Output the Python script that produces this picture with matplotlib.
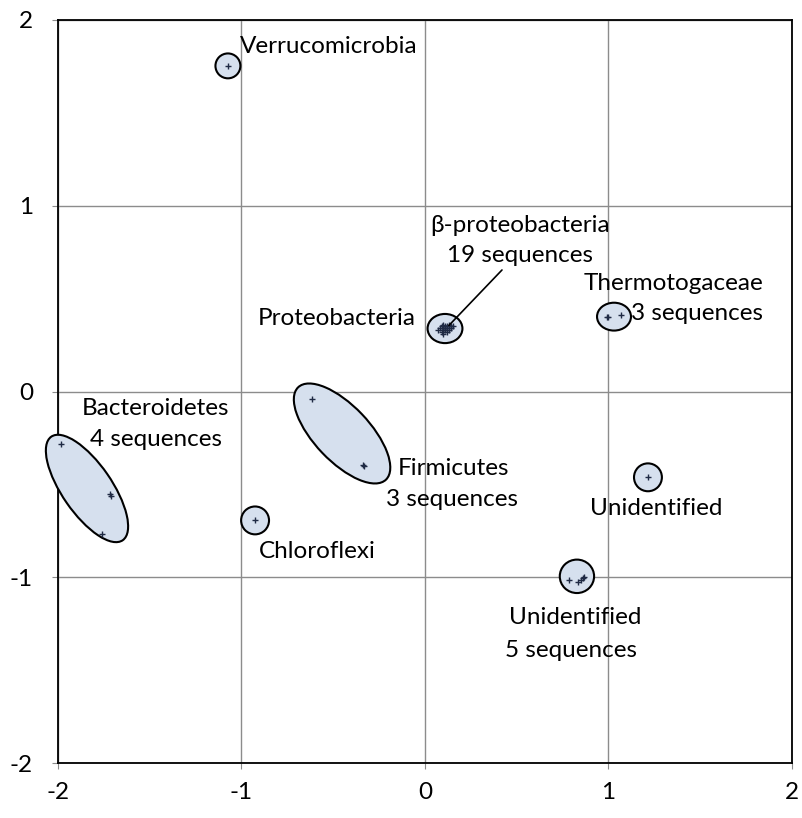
import matplotlib.pyplot as plt
from matplotlib.patches import Ellipse

plt.rcParams['font.family'] = ['Lato', 'DejaVu Sans']
plt.rcParams['axes.unicode_minus'] = False

# sequence coordinates per group
verruco_x = [-1.074]
verruco_y = [1.753]
chloro_x = [-0.926]
chloro_y = [-0.694]
unid1_x = [1.215]
unid1_y = [-0.462]
thermo_x = [0.99, 1.00, 1.07]
thermo_y = [0.40, 0.40, 0.41]
beta_x = [0.07, 0.08, 0.09, 0.09, 0.10, 0.10, 0.10, 0.11, 0.11, 0.11,
          0.12, 0.12, 0.12, 0.13, 0.13, 0.14, 0.14, 0.15, 0.10]
beta_y = [0.33, 0.34, 0.32, 0.35, 0.33, 0.34, 0.36, 0.33, 0.34, 0.35,
          0.32, 0.34, 0.35, 0.33, 0.36, 0.34, 0.35, 0.35, 0.31]
unid5_x = [0.785, 0.834, 0.850, 0.861, 0.866]
unid5_y = [-1.016, -1.027, -1.016, -1.005, -1.000]
bactero_x = [-1.984, -1.717, -1.712, -1.760]
bactero_y = [-0.280, -0.554, -0.560, -0.769]
firmi_x = [-0.616, -0.338, -0.335]
firmi_y = [-0.038, -0.398, -0.400]

# group outlines: centre x, centre y, width, height, angle
outlines = [
    (-1.074, 1.753, 0.136, 0.134, 0),
    (-0.926, -0.694, 0.152, 0.150, 0),
    (1.215, -0.462, 0.152, 0.150, 0),
    (1.03, 0.403, 0.185, 0.150, 0),
    (0.109, 0.339, 0.190, 0.157, 0),
    (0.828, -0.995, 0.187, 0.180, 0),
    (-1.842, -0.522, 0.68, 0.27, -55),
    (-0.452, -0.226, 0.69, 0.30, -46),
]

fig = plt.figure(figsize=(8.03, 8.18), dpi=100)
ax = fig.add_axes([58 / 803, (818 - 763) / 818, 734 / 803, 743 / 818])

for cx, cy, w, h, a in outlines:
    ax.add_patch(Ellipse((cx, cy), w, h, angle=a, facecolor='#d6e0ee',
                         edgecolor='black', lw=1.5, zorder=3, clip_on=False))

groups = [(verruco_x, verruco_y), (chloro_x, chloro_y), (unid1_x, unid1_y),
          (thermo_x, thermo_y), (beta_x, beta_y), (unid5_x, unid5_y),
          (bactero_x, bactero_y), (firmi_x, firmi_y)]
for gx, gy in groups:
    ax.plot(gx, gy, '+', color='#1f2a44', ms=5, mew=1, zorder=4, clip_on=False)

fs = 17.5
ax.text(-1.008, 1.855, 'Verrucomicrobia', fontsize=fs, ha='left', va='center')
ax.text(0.518, 0.892, 'β-proteobacteria', fontsize=fs, ha='center', va='center')
ax.text(0.518, 0.731, '19 sequences', fontsize=fs, ha='center', va='center')
ax.text(-0.48, 0.392, 'Proteobacteria', fontsize=fs, ha='center', va='center')
ax.text(1.842, 0.581, 'Thermotogaceae', fontsize=fs, ha='right', va='center')
ax.text(1.842, 0.419, '3 sequences', fontsize=fs, ha='right', va='center')
ax.text(-1.466, -0.091, 'Bacteroidetes', fontsize=fs, ha='center', va='center')
ax.text(-1.466, -0.258, '4 sequences', fontsize=fs, ha='center', va='center')
ax.text(0.158, -0.414, 'Firmicutes', fontsize=fs, ha='center', va='center')
ax.text(0.148, -0.581, '3 sequences', fontsize=fs, ha='center', va='center')
ax.text(-0.586, -0.860, 'Chloroflexi', fontsize=fs, ha='center', va='center')
ax.text(1.26, -0.630, 'Unidentified', fontsize=fs, ha='center', va='center')
ax.text(0.820, -1.215, 'Unidentified', fontsize=fs, ha='center', va='center')
ax.text(0.795, -1.392, '5 sequences', fontsize=fs, ha='center', va='center')

ax.annotate('', xy=(0.12, 0.345), xytext=(0.43, 0.665),
            arrowprops=dict(arrowstyle='-', color='black', lw=1.2), zorder=5)

ax.set_xlim(-2, 2)
ax.set_ylim(-2, 2)
ax.set_xticks([-2, -1, 0, 1, 2])
ax.set_yticks([-2, -1, 0, 1, 2])
ax.grid(True, color='#8c8c8c', lw=1, zorder=0)
ax.set_axisbelow(True)
for s in ax.spines.values():
    s.set_color('black')
    s.set_linewidth(1.3)
ax.tick_params(axis='both', labelsize=17.5, length=4, direction='out', color='#8c8c8c')
ax.tick_params(axis='x', pad=10)
ax.tick_params(axis='y', pad=14)

fig.savefig('out.png', dpi=100)
